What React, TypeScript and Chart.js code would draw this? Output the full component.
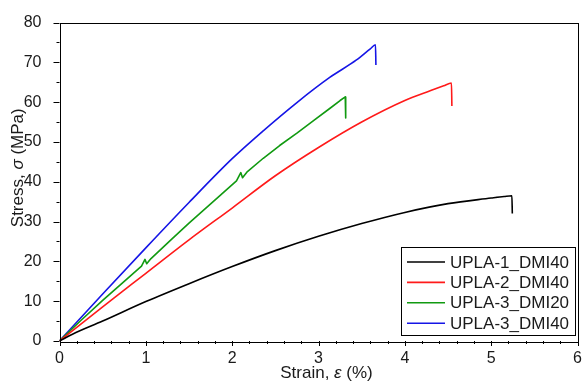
import React, { useEffect, useRef } from "react";
import { Chart, registerables } from "chart.js";

Chart.register(...registerables);

// ---- Data ----
const seriesLabels = ["UPLA-1_DMI40", "UPLA-2_DMI40", "UPLA-3_DMI20", "UPLA-3_DMI40"];
const seriesColors = ["#000000", "#ff1a1a", "#119a11", "#1515e6"];
// the noisy green record is drawn point to point, the others as smooth curves
const seriesSmooth = [true, true, false, true];

const strain1 = [0, 0.15, 0.5, 1, 1.5, 2, 2.5, 3, 3.5, 4, 4.5, 5, 5.15, 5.24, 5.245];
const stress1 = [0, 1.7, 5.0, 9.9, 14.4, 18.7, 22.7, 26.3, 29.5, 32.3, 34.5, 35.9, 36.3, 36.5, 32.0];

const strain2 = [0, 0.5, 1, 1.5, 2, 2.5, 3, 3.5, 4, 4.3, 4.45, 4.54, 4.545];
const stress2 = [0, 8.6, 17.0, 25.4, 33.4, 41.5, 48.6, 55.0, 60.4, 62.9, 64.1, 64.8, 59.0];

const strain3 = [0, 0.25, 0.5, 0.75, 0.95, 0.99, 1.01, 1.06, 1.3, 1.5, 1.78, 2.05, 2.1, 2.12, 2.17, 2.36, 2.55, 2.75, 2.95, 3.13, 3.25, 3.31, 3.315];
const stress3 = [0, 5.2, 10.2, 15.0, 18.8, 20.5, 19.4, 20.7, 25.6, 29.6, 35.0, 40.2, 42.3, 41.0, 42.4, 45.9, 49.1, 52.2, 55.5, 58.4, 60.4, 61.3, 56.0];

const strain4 = [0, 0.5, 1, 1.5, 2, 2.36, 2.75, 3.13, 3.44, 3.6, 3.66, 3.665];
const stress4 = [0, 11.8, 23.4, 34.8, 45.8, 52.8, 59.9, 66.2, 70.6, 73.4, 74.4, 69.3];

const xTicks = [0, 1, 2, 3, 4, 5, 6];
const yTicks = [0, 10, 20, 30, 40, 50, 60, 70, 80];
const xMinorStep = 0.2;
const yMinorStep = 5;

const FONT = "Liberation Sans";
const TEXT = "#1a1a1a";

function pts(xs: number[], ys: number[]) {
  return xs.map((x, i) => ({ x, y: ys[i] }));
}

const decorPlugin = {
  id: "decor",
  afterDraw(chart: any) {
    const ctx = chart.ctx as CanvasRenderingContext2D;
    const a = chart.chartArea;
    const xs = chart.scales.x;
    const ys = chart.scales.y;
    ctx.save();
    // frame
    ctx.strokeStyle = "#000";
    ctx.lineWidth = 1;
    ctx.strokeRect(Math.round(a.left) + 0.5, Math.round(a.top) + 0.5, Math.round(a.right - a.left), Math.round(a.bottom - a.top));
    // ticks
    ctx.beginPath();
    for (let v = xs.min; v <= xs.max + 1e-9; v += xMinorStep) {
      const major = Math.abs(v - Math.round(v)) < 1e-6;
      const px = Math.round(xs.getPixelForValue(v)) + 0.5;
      ctx.moveTo(px, a.bottom);
      ctx.lineTo(px, a.bottom + (major ? 5 : 3));
    }
    for (let v = ys.min; v <= ys.max + 1e-9; v += yMinorStep) {
      const major = Math.abs(v / 10 - Math.round(v / 10)) < 1e-6;
      const py = Math.round(ys.getPixelForValue(v)) + 0.5;
      ctx.moveTo(a.left, py);
      ctx.lineTo(a.left - (major ? 6 : 3), py);
    }
    ctx.stroke();

    // axis titles
    ctx.fillStyle = TEXT;
    ctx.textBaseline = "middle";
    const drawMixed = (parts: [string, boolean][], cx: number, cy: number) => {
      let total = 0;
      const widths = parts.map(([t, it]) => {
        ctx.font = `${it ? "italic " : ""}17px "${FONT}"`;
        const w = ctx.measureText(t).width;
        total += w;
        return w;
      });
      let x = cx - total / 2;
      parts.forEach(([t, it], i) => {
        ctx.font = `${it ? "italic " : ""}17px "${FONT}"`;
        ctx.textAlign = "left";
        ctx.fillText(t, x, cy);
        x += widths[i];
      });
    };
    drawMixed([["Strain, ", false], ["ε", true], [" (%)", false]], (a.left + a.right) / 2 + 8, a.bottom + 32);
    ctx.save();
    ctx.translate(18.5, (a.top + a.bottom) / 2 - 14);
    ctx.rotate(-Math.PI / 2);
    drawMixed([["Stress, ", false], ["σ", true], [" (MPa)", false]], 0, 0);
    ctx.restore();

    // legend
    const bx1 = a.right - 2.5;
    const by1 = a.bottom - 6;
    const bx0 = bx1 - 174;
    const by0 = by1 - 88;
    ctx.fillStyle = "#fff";
    ctx.fillRect(bx0, by0, bx1 - bx0, by1 - by0);
    ctx.strokeStyle = "#000";
    ctx.lineWidth = 1;
    ctx.strokeRect(Math.round(bx0) + 0.5, Math.round(by0) + 0.5, Math.round(bx1 - bx0), Math.round(by1 - by0));
    chart.data.datasets.forEach((ds: any, i: number) => {
      const cy = by0 + 15 + i * 20.4;
      ctx.strokeStyle = ds.borderColor;
      ctx.lineWidth = 1.6;
      ctx.beginPath();
      ctx.moveTo(bx0 + 6, cy);
      ctx.lineTo(bx0 + 44, cy);
      ctx.stroke();
      ctx.fillStyle = TEXT;
      ctx.font = `17px "${FONT}"`;
      ctx.textAlign = "left";
      ctx.textBaseline = "middle";
      ctx.fillText(ds.label, bx0 + 49, cy + 1);
    });
    ctx.restore();
  },
};

export default function App() {
  const ref = useRef<HTMLCanvasElement | null>(null);
  useEffect(() => {
    if (!ref.current) return;
    const allStrain = [strain1, strain2, strain3, strain4];
    const allStress = [stress1, stress2, stress3, stress4];
    const chart = new Chart(ref.current, {
      type: "line",
      data: {
        datasets: seriesLabels.map((label, i) => ({
          label,
          data: pts(allStrain[i], allStress[i]),
          borderColor: seriesColors[i],
          backgroundColor: seriesColors[i],
          borderWidth: 1.6,
          pointRadius: 0,
          tension: 0,
          cubicInterpolationMode: seriesSmooth[i] ? ("monotone" as const) : ("default" as const),
          borderJoinStyle: "round" as const,
          fill: false,
        })),
      },
      options: {
        responsive: false,
        animation: false,
        layout: { padding: { top: 22.5, right: 4.5, left: 0, bottom: 0 } },
        plugins: { legend: { display: false }, tooltip: { enabled: false } },
        scales: {
          x: {
            type: "linear",
            min: 0,
            max: 6,
            afterBuildTicks: (s: any) => {
              s.ticks = xTicks.map((v) => ({ value: v }));
            },
            afterFit: (s: any) => {
              s.height = 40;
              s.paddingLeft = 0;
              s.paddingRight = 0;
            },
            ticks: { font: { family: FONT, size: 16 }, color: TEXT, padding: 0, maxRotation: 0 },
            grid: { display: false },
            border: { display: false },
          },
          y: {
            type: "linear",
            min: 0,
            max: 80,
            afterBuildTicks: (s: any) => {
              s.ticks = yTicks.map((v) => ({ value: v }));
            },
            afterFit: (s: any) => {
              s.width = 59.5;
              s.paddingTop = 0;
              s.paddingBottom = 0;
            },
            ticks: { font: { family: FONT, size: 16 }, color: TEXT, padding: 10 },
            grid: { display: false },
            border: { display: false },
          },
        },
      },
      plugins: [decorPlugin],
    });
    return () => chart.destroy();
  }, []);
  return (
    <div style={{ position: "fixed", left: 0, top: 0, width: 582, height: 381, background: "#fff" }}>
      <canvas ref={ref} width={582} height={381} style={{ display: "block" }} />
    </div>
  );
}
